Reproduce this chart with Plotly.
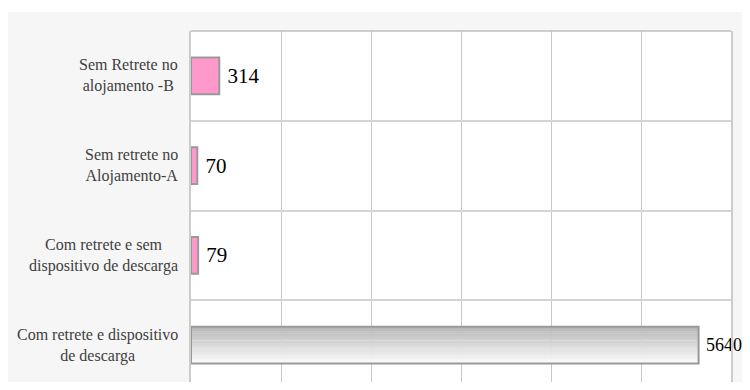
import plotly.graph_objects as go

# Data (bottom to top)
categories = [
    "Com retrete e dispositivo<br>de descarga",
    "Com retrete e sem<br>dispositivo de descarga",
    "Sem retrete no<br>Alojamento-A",
    "Sem Retrete no<br>alojamento -B",
]
values = [5640, 79, 70, 314]
bar_colors = ["rgba(0,0,0,0)", "#ff99cc", "#ff99cc", "#ff99cc"]
label_sizes = [18, 21, 21, 21]

serif = "Palatino Linotype, Book Antiqua, Palatino, Liberation Serif, serif"
BAR_W = 0.41

fig = go.Figure()

# Grey gradient fill for the largest bar (drawn as thin overlaid slices)
n_slices = 16
top_rgb = (184, 184, 184)
bot_rgb = (250, 250, 250)
for k in range(n_slices):
    t = k / (n_slices - 1)  # 0 bottom -> 1 top
    rgb = tuple(round(b + (tp - b) * t) for b, tp in zip(bot_rgb, top_rgb))
    fig.add_trace(go.Bar(
        y=[categories[0]], x=[values[0]], orientation="h",
        width=BAR_W / n_slices + 0.002,
        offset=-BAR_W / 2 + k * BAR_W / n_slices,
        marker=dict(color="rgb(%d,%d,%d)" % rgb, line=dict(width=0)),
        hoverinfo="skip", showlegend=False,
    ))

fig.add_trace(go.Bar(
    y=categories,
    x=values,
    orientation="h",
    width=BAR_W,
    marker=dict(color=bar_colors, line=dict(color="#999999", width=2)),
    text=values,
    texttemplate=" %{x}",
    textposition="outside",
    textfont=dict(family=serif, size=label_sizes, color="#000000"),
    cliponaxis=False,
    constraintext="none",
    hoverinfo="skip",
))

# Category labels as centred annotations
for c in categories:
    fig.add_annotation(
        x=0, xref="paper", y=c, yref="y",
        text=c, showarrow=False,
        xanchor="right", xshift=-11, align="center",
        font=dict(family=serif, size=16, color="#404040"),
    )

fig.update_layout(
    width=742, height=374,
    margin=dict(l=183, r=19, t=23, b=0),
    paper_bgcolor="#f6f6f6",
    plot_bgcolor="#ffffff",
    barmode="overlay",
    showlegend=False,
    xaxis=dict(
        range=[0, 6000], dtick=1000, showticklabels=False,
        showgrid=True, gridcolor="#c8c8c8", gridwidth=1,
        zeroline=False, showline=False,
        ticks="",
    ),
    yaxis=dict(
        range=[-0.41, 3.5],
        showticklabels=False, tickson="boundaries",
        showgrid=True, gridcolor="#d4d4d4", gridwidth=1.5,
        showline=True, linecolor="#cccccc", linewidth=1.5, mirror=True,
        ticks="",
    ),
    shapes=[
        dict(type="rect", xref="paper", yref="paper",
             x0=-0.4, x1=1.1, y0=1 + 19 / 351, y1=1.2,
             fillcolor="#ffffff", line=dict(width=0), layer="below"),
        # top border of the plotting area
        dict(type="line", xref="paper", yref="paper",
             x0=0, x1=1, y0=1, y1=1,
             line=dict(color="#bdbdbd", width=1.5)),
    ],
)

fig.write_html("out.html")
